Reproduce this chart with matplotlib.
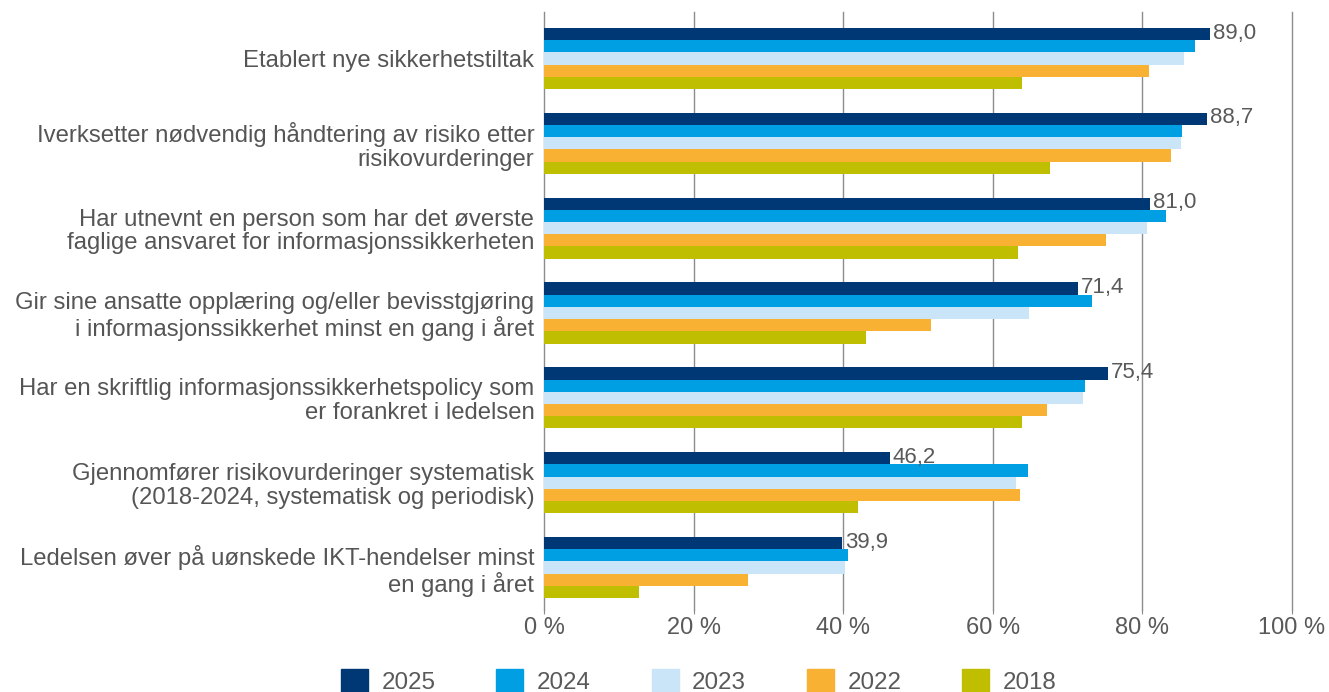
import matplotlib
matplotlib.use("Agg")
import matplotlib.pyplot as plt
import numpy as np

plt.rcParams['font.family'] = ['Liberation Sans', 'DejaVu Sans']

categories = [
    "Etablert nye sikkerhetstiltak",
    "Iverksetter nødvendig håndtering av risiko etter\nrisikovurderinger",
    "Har utnevnt en person som har det øverste\nfaglige ansvaret for informasjonssikkerheten",
    "Gir sine ansatte opplæring og/eller bevisstgjøring\ni informasjonssikkerhet minst en gang i året",
    "Har en skriftlig informasjonssikkerhetspolicy som\ner forankret i ledelsen",
    "Gjennomfører risikovurderinger systematisk\n(2018-2024, systematisk og periodisk)",
    "Ledelsen øver på uønskede IKT-hendelser minst\nen gang i året",
]
years = ["2025", "2024", "2023", "2022", "2018"]
v2025 = [89.0, 88.7, 81.0, 71.4, 75.4, 46.2, 39.9]
v2024 = [87.0, 85.3, 83.2, 73.3, 72.3, 64.7, 40.7]
v2023 = [85.6, 85.1, 80.6, 64.8, 72.1, 63.1, 40.3]
v2022 = [80.9, 83.8, 75.2, 51.8, 67.2, 63.6, 27.3]
v2018 = [63.9, 67.7, 63.4, 43.0, 63.9, 42.0, 12.7]
series = [v2025, v2024, v2023, v2022, v2018]
colors = ["#003875", "#009FE3", "#C9E5F7", "#F8B133", "#BFBE00"]
xticks = [0, 20, 40, 60, 80, 100]
xticklabels = ["0 %", "20 %", "40 %", "60 %", "80 %", "100 %"]

fig = plt.figure(figsize=(13.29, 6.92), dpi=100)
ax = fig.add_axes([544/1329, 1-610/692, (1292-544)/1329, 594/692])

n = len(categories)
bh = 0.144
ypos = np.arange(n)
for i, (vals, c) in enumerate(zip(series, colors)):
    offs = (i - 2) * bh
    ax.barh(ypos + offs, vals, height=bh, color=c, label=years[i], zorder=3)

for y, v in zip(ypos, v2025):
    ax.text(v + 0.4, y - 2*bh - 0.01, f"{v:.1f}".replace(".", ","), va="center", ha="left",
            fontsize=16, color="#595959", zorder=4)

ax.set_xlim(0, 100)
ax.set_ylim(n - 0.5, -0.5)
ax.set_yticks(ypos)
ax.set_yticklabels(categories, fontsize=17.2, color="#555555", linespacing=1.1)
ax.set_xticks(xticks)
ax.set_xticklabels(xticklabels, fontsize=17, color="#595959")
ax.tick_params(axis='y', length=0, pad=7)
ax.tick_params(axis='x', length=3, color="#8c8c8c", pad=2)
for s in ax.spines.values():
    s.set_visible(False)
for xt in xticks:
    ax.axvline(xt, ymin=0, ymax=1.007, color="#8c8c8c", linewidth=1, zorder=0, clip_on=False)

handles = [plt.Rectangle((0, 0), 1, 1, color=c) for c in colors]
fig.legend(handles, years, loc="center", bbox_to_anchor=(0.5258, 0.0145), ncol=5,
           frameon=False, fontsize=17.4, handlelength=1.116, handleheight=1.116,
           columnspacing=2.52, handletextpad=0.56, labelcolor="#595959",
           borderpad=0, borderaxespad=0)

fig.savefig("out.png", dpi=100)
